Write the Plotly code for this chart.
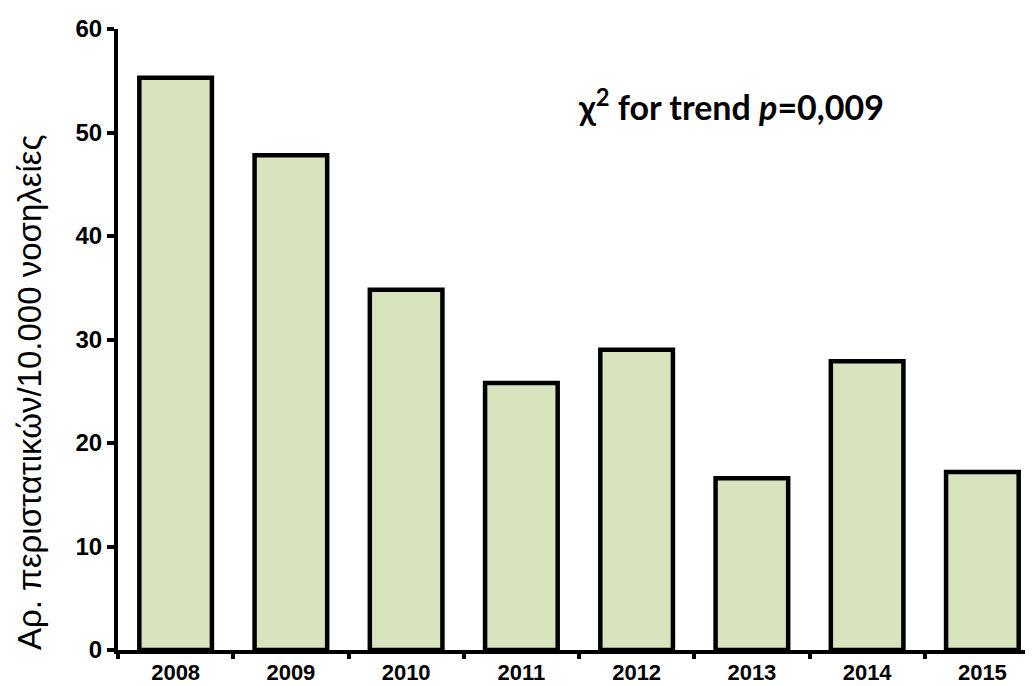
import plotly.graph_objects as go

# έτη και τιμές (περιστατικά / 10.000 νοσηλείες)
years = ['2008', '2009', '2010', '2011', '2012', '2013', '2014', '2015']
rates = [55.3, 47.8, 34.8, 25.8, 29.0, 16.6, 27.9, 17.2]
y_ticks = [0, 10, 20, 30, 40, 50, 60]

# περιοχή σχεδίασης σε pixel
L, R, T, B = 110, 1, 21, 44
W, H = 1033, 686
pw, ph = W - L - R, H - T - B

fig = go.Figure()

fig.add_trace(go.Bar(
    x=years, y=rates,
    width=0.63,
    marker=dict(color='#d7e4bd', line=dict(color='black', width=4.5)),
))

fig.add_annotation(
    x=0.497, y=0.877, xref='paper', yref='paper',
    xanchor='left', yanchor='middle', showarrow=False,
    text='<b>χ<sup>2</sup> for trend <i>p</i>=0,009</b>',
    font=dict(family='Lato', size=34, color='black'),
)

# τίτλος άξονα y ως annotation για να μπει πιο χαμηλά, όπως στο πρωτότυπο
fig.add_annotation(
    x=(22 - L) / pw, y=(H - B - 385) / ph, xref='paper', yref='paper', showarrow=False,
    textangle=-90, xanchor='center', yanchor='middle',
    text='Αρ. περιστατικών/10.000 νοσηλείες',
    font=dict(family='Liberation Sans', size=33, color='black'),
)

fig.update_layout(
    width=W, height=H,
    margin=dict(l=L, r=R, t=T, b=B),
    paper_bgcolor='white', plot_bgcolor='white',
    showlegend=False,
    font=dict(family='Liberation Sans', color='black'),
)
fig.update_xaxes(
    showline=True, linecolor='black', linewidth=4,
    ticks='outside', tickson='boundaries', ticklen=5, tickwidth=4, tickcolor='black',
    tickfont=dict(size=22, family='Liberation Sans', weight='bold'),
    showgrid=False,
)
fig.update_yaxes(
    range=[0, 60], tickvals=y_ticks,
    showline=True, linecolor='black', linewidth=4,
    ticks='outside', ticklen=7, tickwidth=4, tickcolor='black',
    tickfont=dict(size=24, family='Liberation Sans', weight='bold'),
    showgrid=False, zeroline=False,
)

fig.write_html('out.html')
